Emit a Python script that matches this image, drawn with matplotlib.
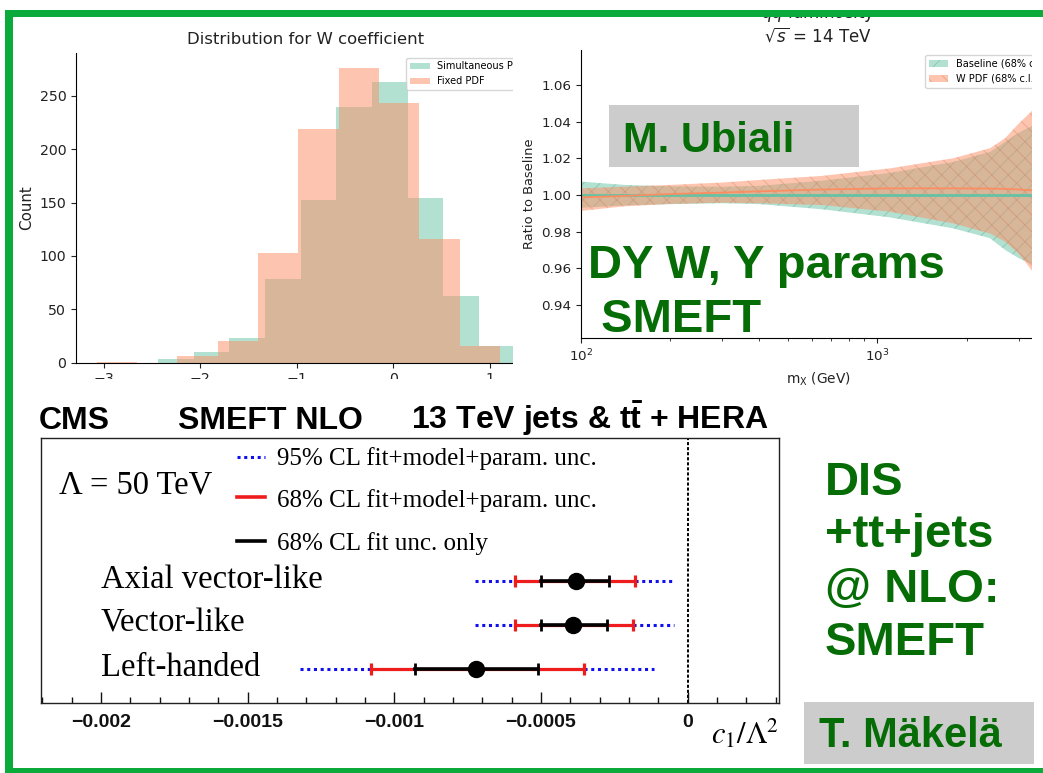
import numpy as np
import matplotlib
matplotlib.use("Agg")
import matplotlib.pyplot as plt
from matplotlib.patches import Rectangle
from matplotlib.lines import Line2D
from matplotlib.ticker import MultipleLocator
from matplotlib.colors import to_rgba
import matplotlib.transforms as mtransforms

# ---------------------------------------------------------------- data
# Distribution of the fitted W coefficient (1000 replicas each)
sim_edges = np.linspace(-2.435, 1.255, 11)
sim_counts = [3, 10, 23, 78, 152, 239, 263, 154, 62, 16]
fix_edges = np.linspace(-3.07, 1.106, 11)
fix_counts = [1, 0, 6, 20, 103, 219, 276, 243, 116, 16]

# q-qbar luminosity ratio to baseline, sqrt(s) = 14 TeV
mass = [100, 140, 200, 300, 400, 650, 1100, 1800, 2400, 2700, 3000, 3350]
base_cv = [1.0, 1.0, 1.0, 1.0, 1.0, 1.0, 1.0, 1.0, 1.0, 1.0, 1.0, 1.0]
base_lo = [0.9930, 0.9943, 0.9950, 0.9955, 0.9950, 0.9922, 0.9878, 0.9818,
           0.9764, 0.9700, 0.9655, 0.9620]
base_hi = [1.0073, 1.0055, 1.0047, 1.0045, 1.0050, 1.0078, 1.0120, 1.0180,
           1.0235, 1.0290, 1.0340, 1.0380]
wpdf_cv = [0.9987, 0.9995, 1.0005, 1.0013, 1.0020, 1.0030, 1.0036, 1.0036,
           1.0035, 1.0033, 1.0030, 1.0025]
wpdf_lo = [0.9913, 0.9938, 0.9951, 0.9958, 0.9955, 0.9945, 0.9909, 0.9845,
           0.9790, 0.9745, 0.9680, 0.9580]
wpdf_hi = [1.0036, 1.0045, 1.0055, 1.0068, 1.0082, 1.0104, 1.0145, 1.0200,
           1.0255, 1.0310, 1.0390, 1.0464]

# CMS SMEFT NLO limits on c1/Lambda^2 (Lambda = 50 TeV)
models = ["Axial vector-like", "Vector-like", "Left-handed"]
rows = [3, 2, 1]
best = [-0.00038, -0.00039, -0.00072]
fit_lo = [-0.00050, -0.00050, -0.00093]
fit_hi = [-0.00027, -0.000275, -0.00051]
tot_lo = [-0.00059, -0.00059, -0.00108]
tot_hi = [-0.00018, -0.000185, -0.000355]
cl95_lo = [-0.000725, -0.000725, -0.00132]
cl95_hi = [-0.000045, -0.000048, -0.000115]
cms_ticks = [-0.002, -0.0015, -0.001, -0.0005, 0.0]
cms_ticklabels = ["\u22120.002", "\u22120.0015", "\u22120.001", "\u22120.0005", "0"]

# ---------------------------------------------------------------- layout helpers
W, H = 1043, 773
plt.rcParams["hatch.linewidth"] = 0.7
fig = plt.figure(figsize=(W / 100, H / 100), dpi=100)
fig.patch.set_facecolor("white")


def fx(x):
    return x / W


def fy(y):
    return 1 - y / H


def box(x0, y0, x1, y1):
    return [x0 / W, 1 - y1 / H, (x1 - x0) / W, (y1 - y0) / H]


def cover(x0, y0, x1, y1, color="white", z=2):
    fig.add_artist(Rectangle((fx(x0), fy(y1)), (x1 - x0) / W, (y1 - y0) / H,
                             transform=fig.transFigure, facecolor=color,
                             edgecolor="none", zorder=z))


GREEN_TXT = "#066c06"
TEAL = "#66c2a5"
SALMON = "#fc8d62"

# ---------------------------------------------------------------- histogram
ax1 = fig.add_axes(box(76, 52.7, 535.3, 362.7), zorder=1)
ax1.bar(sim_edges[:-1], sim_counts, width=np.diff(sim_edges), align="edge",
        color=TEAL, alpha=0.5, linewidth=0, label="Simultaneous PDF")
ax1.bar(fix_edges[:-1], fix_counts, width=np.diff(fix_edges), align="edge",
        color=SALMON, alpha=0.5, linewidth=0, label="Fixed PDF")
ax1.set_xlim(-3.286, 1.471)
ax1.set_ylim(0, 290.3)
ax1.set_xticks([-3, -2, -1, 0, 1])
ax1.set_yticks([0, 50, 100, 150, 200, 250])
ax1.tick_params(labelsize=10.2, colors="#222222")
ax1.set_title("Distribution for W coefficient", fontsize=11.85, color="#222222")
ax1.set_ylabel("Count", fontsize=10.9, color="#222222")
for s in ("top", "right"):
    ax1.spines[s].set_visible(False)
ax1.legend(loc="upper right", fontsize=7, handlelength=2.0)

# white background of the luminosity panel
cover(513, 17, W, 379, z=2)

# ---------------------------------------------------------------- luminosity ratio
ax2 = fig.add_axes(box(581, 50, 1055.8, 338.3), zorder=3)
ax2.set_xscale("log")
ax2.fill_between(mass, base_lo, base_hi, facecolor=to_rgba(TEAL, 0.5),
                 edgecolor=to_rgba("#4a9c82", 0.35), hatch="//", linewidth=0,
                 label="Baseline (68% c.l.)")
ax2.fill_between(mass, wpdf_lo, wpdf_hi, facecolor=to_rgba(SALMON, 0.5),
                 edgecolor=to_rgba("#d0704a", 0.35), hatch="\\\\", linewidth=0,
                 label="W PDF (68% c.l.)")
ax2.plot(mass, base_cv, color=TEAL, lw=2.0)
ax2.plot(mass, wpdf_cv, color=SALMON, lw=1.3)
ax2.set_xlim(100, 4000)
ax2.set_ylim(0.9218, 1.0791)
ax2.yaxis.set_major_locator(MultipleLocator(0.02))
ax2.tick_params(labelsize=9.7, colors="#222222")
ax2.tick_params(which="minor", colors="#222222")
ax2.set_ylabel("Ratio to Baseline", fontsize=9.4, color="#222222")
ax2.set_xlabel(r"m$_{\mathrm{X}}$ (GeV)", fontsize=9.9, color="#222222")
ax2.set_title("$q\\bar{q}$ luminosity\n$\\sqrt{s}$ = 14 TeV", fontsize=12,
              color="#222222")
for s in ("top", "right"):
    ax2.spines[s].set_visible(False)
ax2.legend(loc="upper right", fontsize=7, handlelength=2.0)

# the panel ends before the figure edge
cover(1032, 17, W, 379, z=4)

# white background of the lower panel
cover(0, 379, W, H, z=2)

# ---------------------------------------------------------------- CMS limits
ax3 = fig.add_axes(box(40.7, 438.3, 778.7, 702.7), zorder=3)
ax3.set_xlim(-0.002205, 0.00031)
ax3.set_ylim(0.2435, 6.232)
for s in ax3.spines.values():
    s.set_color("#222222")
    s.set_linewidth(1.0)
ax3.set_yticks([])
ax3.set_xticks(cms_ticks)
ax3.set_xticklabels(cms_ticklabels, fontsize=14, fontweight="bold",
                    family="Liberation Sans")
ax3.xaxis.set_minor_locator(MultipleLocator(0.0001))
ax3.tick_params(axis="x", which="major", direction="in", length=8, width=1,
                pad=8, colors="#111111")
ax3.tick_params(axis="x", which="minor", direction="in", length=4.3, width=1,
                colors="#111111")
ax3.axvline(0, color="black", lw=1.4, ls=(0, (1.6, 1.0)), zorder=1)

for i, r in enumerate(rows):
    ax3.plot([cl95_lo[i], tot_lo[i]], [r, r], color="#1010ee", lw=2.2,
             ls=(0, (1, 1.2)), zorder=2)
    ax3.plot([tot_hi[i], cl95_hi[i]], [r, r], color="#1010ee", lw=2.2,
             ls=(0, (1, 1.2)), zorder=2)
    ax3.plot([tot_lo[i], tot_hi[i]], [r, r], color="#ee1c1c", lw=2.3, zorder=3)
    ax3.plot([tot_lo[i], tot_hi[i]], [r, r], ls="none", marker="|",
             color="#ee1c1c", ms=9, mew=2.3, zorder=3)
    ax3.plot([fit_lo[i], fit_hi[i]], [r, r], color="black", lw=2.6, zorder=4)
    ax3.plot([fit_lo[i], fit_hi[i]], [r, r], ls="none", marker="|",
             color="black", ms=9, mew=2.0, zorder=4)
    ax3.plot([best[i]], [r], ls="none", marker="o", color="black", ms=11.5,
             zorder=5)

label_tr = mtransforms.offset_copy(
    mtransforms.blended_transform_factory(fig.transFigure, ax3.transData),
    fig=fig, x=0, y=-6.7, units="dots")
for name, r in zip(models, rows):
    ax3.text(fx(101), r, name, transform=label_tr, fontsize=23.5,
             family="Liberation Serif", va="baseline", ha="left")

# header above the frame
fig.text(fx(39.2), fy(429.3), "CMS", fontsize=23, fontweight="bold",
         family="Liberation Sans", va="baseline", zorder=5)
fig.text(fx(177.7), fy(429.3), "SMEFT NLO", fontsize=23, fontweight="bold",
         family="Liberation Sans", va="baseline", zorder=5)
plt.rcParams["mathtext.bf"] = "Liberation Sans:bold"
plt.rcParams["mathtext.rm"] = "Liberation Sans:bold"
fig.text(fx(411), fy(429.3), r"13 TeV jets & t$\bar{\mathbf{t}}$ + HERA",
         fontsize=23, fontweight="bold", family="Liberation Sans",
         math_fontfamily="custom", va="baseline", zorder=5)

# legend of the limit styles
leg_rows = [(456.7, "#1010ee", (0, (1, 1.2)), 2.2, 465.0,
             "95% CL fit+model+param. unc."),
            (497.3, "#ee1c1c", "-", 2.6, 507.3, "68% CL fit+model+param. unc."),
            (540.7, "black", "-", 2.6, 550.0, "68% CL fit unc. only")]
for ly, col, ls, lw, tb, txt in leg_rows:
    fig.add_artist(Line2D([fx(237), fx(265)], [fy(ly), fy(ly)],
                          transform=fig.transFigure, color=col, ls=ls, lw=lw,
                          zorder=5))
    fig.text(fx(277), fy(tb), txt, fontsize=18, family="Liberation Serif",
             va="baseline", zorder=5)
fig.text(fx(59), fy(493.3), "\u039b = 50 TeV", fontsize=23.5,
         family="Liberation Serif", va="baseline", zorder=5)
fig.text(fx(779), fy(733), r"$c_{\mathit{1}}/\Lambda^{2}$", fontsize=22,
         math_fontfamily="stix", ha="right", va="center", zorder=5)

# ---------------------------------------------------------------- slide annotations
cover(609.3, 105, 858.7, 167.3, color="#cccccc", z=5)
cover(804.3, 702.3, 1033.7, 764.3, color="#cccccc", z=5)
anno = dict(fontweight="bold", family="Liberation Sans", color=GREEN_TXT,
            va="baseline", ha="left", zorder=6)
fig.text(fx(623), fy(151.7), "M. Ubiali", fontsize=30, **anno)
fig.text(fx(587.6), fy(278.3), "DY W, Y params", fontsize=34, **anno)
fig.text(fx(587.6), fy(331.7), " SMEFT", fontsize=34, **anno)
for yb, line in zip([495, 546.7, 601.7, 655], ["DIS", "+tt+jets", "@ NLO:", "SMEFT"]):
    fig.text(fx(825), fy(yb), line, fontsize=34, **anno)
fig.text(fx(819), fy(747.3), "T. M\u00e4kel\u00e4", fontsize=30, **anno)

# slide frame
cover(0, 0, W, 10, z=9)
BORDER = "#0aab3a"
cover(5, 10, W, 17, color=BORDER, z=10)
cover(5, 10, 13.3, H, color=BORDER, z=10)
cover(5, 768, W, H, color=BORDER, z=10)

fig.savefig("out.png", dpi=100, facecolor="white")
